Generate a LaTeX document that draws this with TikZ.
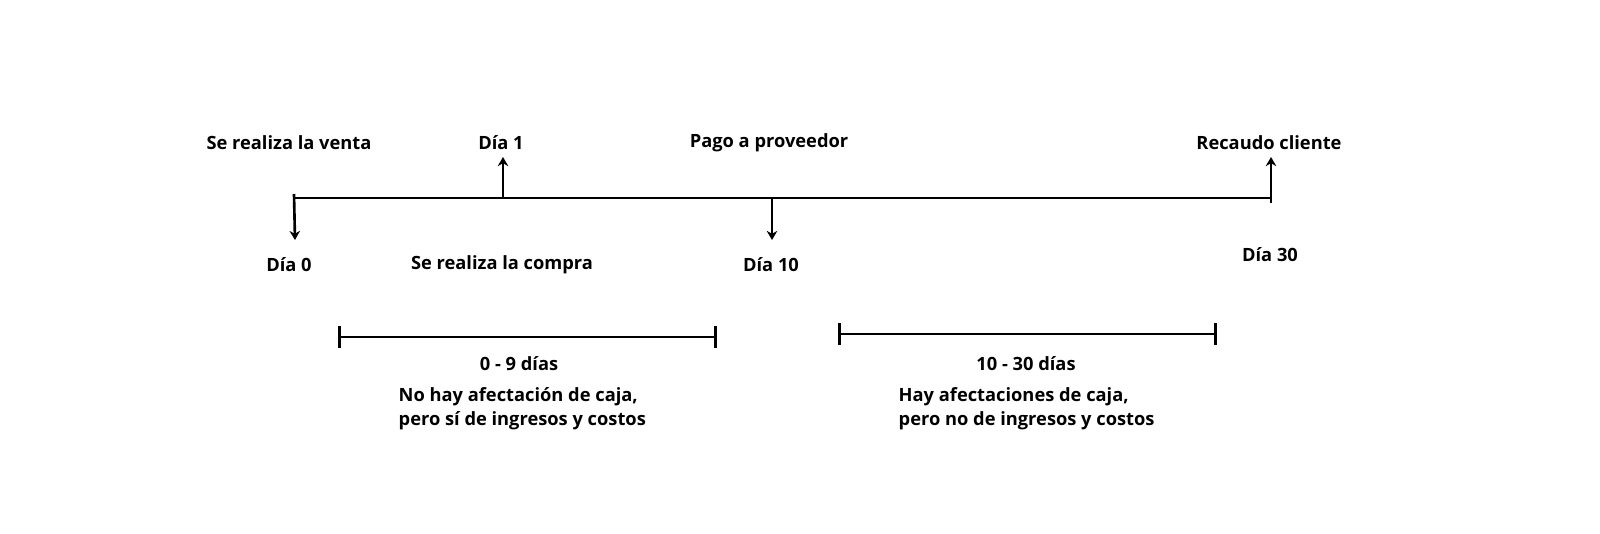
\documentclass[tikz,border=0pt]{standalone}
\usepackage{fontspec}
\setmainfont{Open Sans}
\usetikzlibrary{arrows.meta}
\begin{document}
\begin{tikzpicture}[x=0.01cm,y=-0.01cm,
 lab/.style={font=\fontsize{5.2pt}{6.9pt}\selectfont\bfseries,inner sep=0pt},
 ln/.style={line width=0.75pt},
 arr/.style={ln,-{Stealth[length=2.6pt,width=3pt]}}]
\useasboundingbox (0,0) rectangle (1600,533);
\coordinate (L) at (294,198); \coordinate (R) at (1271,198);
\draw[ln] (L) -- (R);
\coordinate (L0) at (294,194); \coordinate (L1) at (295,240);
\draw[arr] (L0) -- (L1);
\coordinate (a1) at (503,198); \coordinate (a2) at (503,157);
\draw[arr] (a1) -- (a2);
\coordinate (b1) at (772,198); \coordinate (b2) at (772,240);
\draw[arr] (b1) -- (b2);
\coordinate (c1) at (1271,203); \coordinate (c2) at (1271,157);
\draw[arr] (c1) -- (c2);
\node[lab] (t1) at (289,143) {Se realiza la venta};
\node[lab] (t2) at (501,143) {Día 1};
\node[lab] (t3) at (769,143) {Pago a proveedor};
\node[lab] (t4) at (1269,143) {Recaudo cliente};
\node[lab] (t5) at (289,265) {Día 0};
\node[lab] (t6) at (502,265) {Se realiza la compra};
\node[lab] (t7) at (771,265) {Día 10};
\node[lab] (t8) at (1270,255) {Día 30};
\coordinate (p1) at (338,337); \coordinate (p2) at (717,337);
\draw[ln,|-|] (p1) -- (p2);
\coordinate (q1) at (838,334); \coordinate (q2) at (1217,334);
\draw[ln,|-|] (q1) -- (q2);
\node[lab] (r1) at (519,364) {0 - 9 días};
\node[lab] (r2) at (1026,364) {10 - 30 días};
\node[lab,anchor=north west,align=left] (s1) at (398,387) {No hay afectación de caja,\\pero sí de ingresos y costos};
\node[lab,anchor=north west,align=left] (s2) at (898,387) {Hay afectaciones de caja,\\pero no de ingresos y costos};
\end{tikzpicture}
\end{document}
